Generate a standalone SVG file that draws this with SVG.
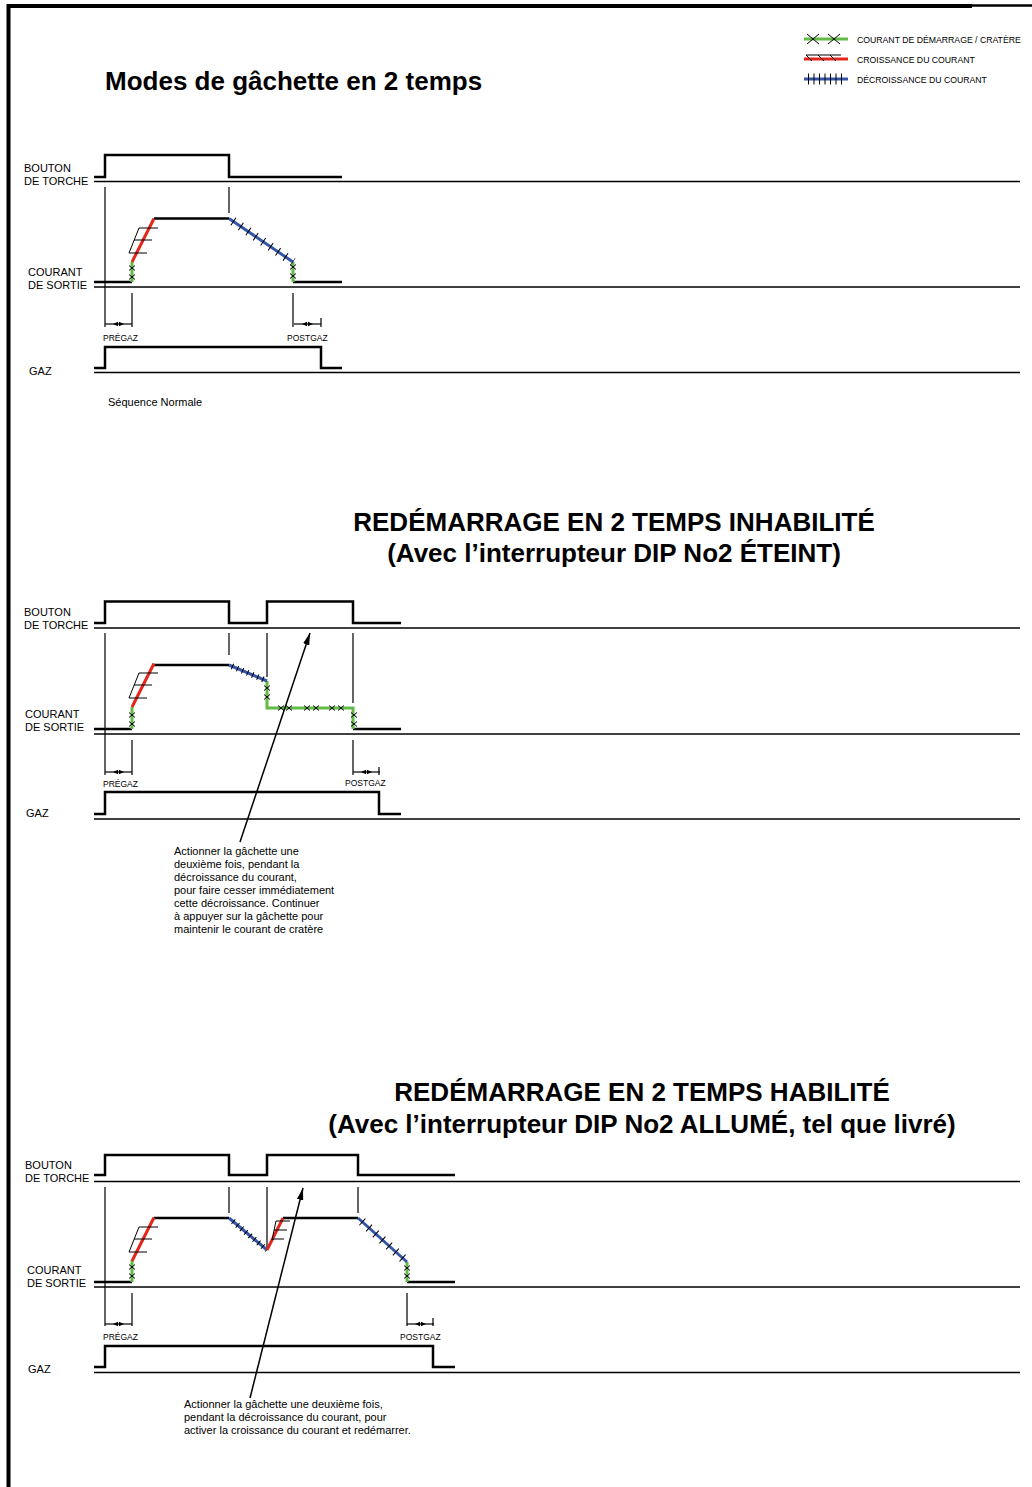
<svg xmlns="http://www.w3.org/2000/svg" width="1032" height="1487" viewBox="0 0 1032 1487">
<style>
text{font-family:"Liberation Sans",Arial,Helvetica,sans-serif;fill:#000}
.lbl{font-size:11px}
.sm{font-size:8.5px}
.leg{font-size:8.7px}
.ttl{font-size:26px;font-weight:bold}
.sig{fill:none;stroke:#000;stroke-width:2.5;stroke-linejoin:miter}
.base{stroke:#000;stroke-width:1.5;fill:none}
.thin{stroke:#000;stroke-width:1.2;fill:none}
.grn{stroke:#62bb46;stroke-width:3;fill:none}
.red{stroke:#e3261c;stroke-width:3;fill:none}
.blu{stroke:#3556a8;stroke-width:3;fill:none}
.hat{stroke:#000;stroke-width:1;fill:none}
.tk{stroke:#000;stroke-width:9;stroke-dasharray:1 8;fill:none}
.tk2{stroke:#000;stroke-width:6;stroke-dasharray:1 4.5;fill:none}
.arr{stroke:#000;stroke-width:1.5;fill:none;marker-end:url(#ah)}
</style>
<defs>
<marker id="ah" viewBox="0 0 12 8" refX="12" refY="4" markerWidth="12" markerHeight="8" orient="auto" markerUnits="userSpaceOnUse"><path d="M0,0.8 L12,4 L0,7.2 z" fill="#000"/></marker>
<path id="xm" class="hat" d="M-3,-2.5 L3,2.5 M-3,2.5 L3,-2.5"/>
<g id="dim"><line class="thin" x1="0" y1="0" x2="27" y2="0"/><path d="M8,0 L13,-2.2 L13,2.2 z M19,0 L14,-2.2 L14,2.2 z" fill="#000"/></g>
<g id="ramp"><line class="red" x1="0" y1="0" x2="22" y2="-43.5"/><path class="hat" d="M-3,-9 L7,-34 H26 M2,-22 H20 M-3,-9 H15"/></g>
</defs>

<g id="border"><path d="M8.5,1487 V6 H972" fill="none" stroke="#000" stroke-width="4"/><line x1="972" y1="5.5" x2="1032" y2="5.5" stroke="#000" stroke-width="2.5"/></g>

<g id="legend">
<line class="grn" x1="804" y1="39" x2="848" y2="39"/>
<path class="hat" d="M807,34 L819,44 M807,44 L819,34 M828,34 L840,44 M828,44 L840,34"/>
<text class="leg" x="857" y="43">COURANT DE DÉMARRAGE / CRATÈRE</text>
<line class="red" x1="804" y1="59" x2="848" y2="59"/>
<path class="hat" d="M806,55 L812,61 M806,55 H841 M818,55 L824,61 M830,55 L836,61"/>
<text class="leg" x="857" y="63">CROISSANCE DU COURANT</text>
<line class="blu" x1="804" y1="79" x2="848" y2="79"/>
<line x1="808" y1="79" x2="845" y2="79" stroke="#000" stroke-width="11" stroke-dasharray="1 4.5"/>
<text class="leg" x="857" y="83">DÉCROISSANCE DU COURANT</text>
</g>

<g id="section1">
<text class="ttl" x="105" y="90">Modes de gâchette en 2 temps</text>
<text class="lbl" x="24" y="172">BOUTON</text>
<text class="lbl" x="24" y="184.5">DE TORCHE</text>
<text class="lbl" x="28" y="276">COURANT</text>
<text class="lbl" x="28" y="288.5">DE SORTIE</text>
<text class="lbl" x="29" y="375">GAZ</text>
<text class="lbl" x="108" y="406">Séquence Normale</text>
<path class="sig" d="M94,177 H105 V155 H229 V177 H342"/>
<line class="base" x1="94" y1="181.5" x2="1020" y2="181.5"/>
<path class="thin" d="M105,187 V327 M229,187 V213 M132,293 V327 M293,293 V327 M321,318 V327"/>
<path class="sig" d="M94,282 H132 M154,218.5 H229 M293,282 H342"/>
<path class="grn" d="M132,282 V262 M293,262 V282"/>
<use href="#ramp" x="132" y="262"/>
<line class="blu" x1="229" y1="218.5" x2="293" y2="262"/>
<line class="tk" x1="233" y1="221.2" x2="293" y2="262"/>
<use href="#xm" x="132" y="268"/><use href="#xm" x="132" y="277"/>
<use href="#xm" x="293" y="267"/><use href="#xm" x="293" y="276"/>
<line class="base" x1="94" y1="287" x2="1020" y2="287"/>
<use href="#dim" x="105" y="324"/><use href="#dim" x="294" y="324"/>
<text class="sm" x="103" y="341">PRÉGAZ</text>
<text class="sm" x="287" y="341">POSTGAZ</text>
<path class="sig" d="M94,368 H105 V347 H321 V368 H342"/>
<line class="base" x1="94" y1="372.5" x2="1020" y2="372.5"/>
</g>

<g id="section2">
<text class="ttl" x="614" y="531" text-anchor="middle">REDÉMARRAGE EN 2 TEMPS INHABILITÉ</text>
<text class="ttl" x="614" y="562" text-anchor="middle">(Avec l’interrupteur DIP No2 ÉTEINT)</text>
<text class="lbl" x="24" y="616">BOUTON</text>
<text class="lbl" x="24" y="628.5">DE TORCHE</text>
<text class="lbl" x="25" y="718">COURANT</text>
<text class="lbl" x="25" y="731">DE SORTIE</text>
<text class="lbl" x="26" y="817">GAZ</text>
<path class="sig" d="M94,623 H105 V601.5 H229 V623 H267 V601.5 H353 V623 H401"/>
<line class="base" x1="94" y1="628" x2="1020" y2="628"/>
<path class="thin" d="M105,633 V775 M229,633 V655 M267,633 V677 M353,633 V703 M353,740 V775 M132,740 V775 M379,767 V775"/>
<path class="sig" d="M94,729 H132 M154,665 H229 M353,729 H401"/>
<path class="grn" d="M132,729 V707 M267,681 V708 H353 V729"/>
<use href="#ramp" x="132" y="707"/>
<line class="blu" x1="229" y1="665" x2="267" y2="681"/>
<line class="tk2" x1="232" y1="666.3" x2="267" y2="681"/>
<use href="#xm" x="132" y="715"/><use href="#xm" x="132" y="724"/>
<use href="#xm" x="267" y="688"/><use href="#xm" x="267" y="697"/>
<use href="#xm" x="281" y="708"/><use href="#xm" x="289" y="708"/>
<use href="#xm" x="307" y="708"/><use href="#xm" x="316" y="708"/>
<use href="#xm" x="332" y="708"/><use href="#xm" x="341" y="708"/>
<use href="#xm" x="354" y="715"/><use href="#xm" x="354" y="724"/>
<line class="base" x1="94" y1="734" x2="1020" y2="734"/>
<use href="#dim" x="105" y="772"/><use href="#dim" x="353" y="772"/>
<text class="sm" x="103" y="787">PRÉGAZ</text>
<text class="sm" x="345" y="786">POSTGAZ</text>
<path class="sig" d="M94,814 H105 V792 H379 V814 H401"/>
<line class="base" x1="94" y1="819" x2="1020" y2="819"/>
<line class="arr" x1="240" y1="842" x2="310" y2="633"/>
<text class="lbl" x="174" y="855">Actionner la gâchette une</text>
<text class="lbl" x="174" y="868">deuxième fois, pendant la</text>
<text class="lbl" x="174" y="881">décroissance du courant,</text>
<text class="lbl" x="174" y="894">pour faire cesser immédiatement</text>
<text class="lbl" x="174" y="907">cette décroissance. Continuer</text>
<text class="lbl" x="174" y="920">à appuyer sur la gâchette pour</text>
<text class="lbl" x="174" y="933">maintenir le courant de cratère</text>
</g>

<g id="section3">
<text class="ttl" x="642" y="1101" text-anchor="middle">REDÉMARRAGE EN 2 TEMPS HABILITÉ</text>
<text class="ttl" x="642" y="1133" text-anchor="middle">(Avec l’interrupteur DIP No2 ALLUMÉ, tel que livré)</text>
<text class="lbl" x="25" y="1169">BOUTON</text>
<text class="lbl" x="25" y="1182">DE TORCHE</text>
<text class="lbl" x="27" y="1274">COURANT</text>
<text class="lbl" x="27" y="1287">DE SORTIE</text>
<text class="lbl" x="28" y="1373">GAZ</text>
<path class="sig" d="M94,1175 H105 V1155 H229 V1175 H267 V1155 H358 V1175 H455"/>
<line class="base" x1="94" y1="1181.5" x2="1020" y2="1181.5"/>
<path class="thin" d="M105,1187 V1326 M229,1187 V1213 M267,1187 V1250 M358,1187 V1213 M132,1293 V1326 M407,1293 V1326 M433,1318 V1326"/>
<path class="sig" d="M94,1282 H132 M154,1218 H229 M283,1218 H358 M407,1282 H455"/>
<path class="grn" d="M132,1282 V1260 M407,1262 V1282"/>
<use href="#ramp" x="132" y="1261"/>
<line class="blu" x1="229" y1="1218" x2="267" y2="1250"/>
<line class="tk2" x1="233" y1="1221.4" x2="267" y2="1250"/>
<line class="red" x1="267" y1="1250" x2="283" y2="1218"/>
<path class="hat" d="M272,1240 L276,1221 H290 M274,1230 H287 M272,1239 H284"/>
<line class="blu" x1="358" y1="1218" x2="407" y2="1262"/>
<line class="tk" x1="362" y1="1221.6" x2="407" y2="1262" stroke-dasharray="1 6.5"/>
<use href="#xm" x="132" y="1267"/><use href="#xm" x="132" y="1276"/>
<use href="#xm" x="407" y="1268"/><use href="#xm" x="407" y="1276"/>
<line class="base" x1="94" y1="1287" x2="1020" y2="1287"/>
<use href="#dim" x="105" y="1324"/><use href="#dim" x="407" y="1324"/>
<text class="sm" x="103" y="1340">PRÉGAZ</text>
<text class="sm" x="400" y="1340">POSTGAZ</text>
<path class="sig" d="M94,1367 H105 V1346 H433 V1367 H455"/>
<line class="base" x1="94" y1="1372.5" x2="1020" y2="1372.5"/>
<line class="arr" x1="250" y1="1398" x2="303" y2="1188"/>
<text class="lbl" x="184" y="1408">Actionner la gâchette une deuxième fois,</text>
<text class="lbl" x="184" y="1421">pendant la décroissance du courant, pour</text>
<text class="lbl" x="184" y="1434">activer la croissance du courant et redémarrer.</text>
</g>
</svg>
